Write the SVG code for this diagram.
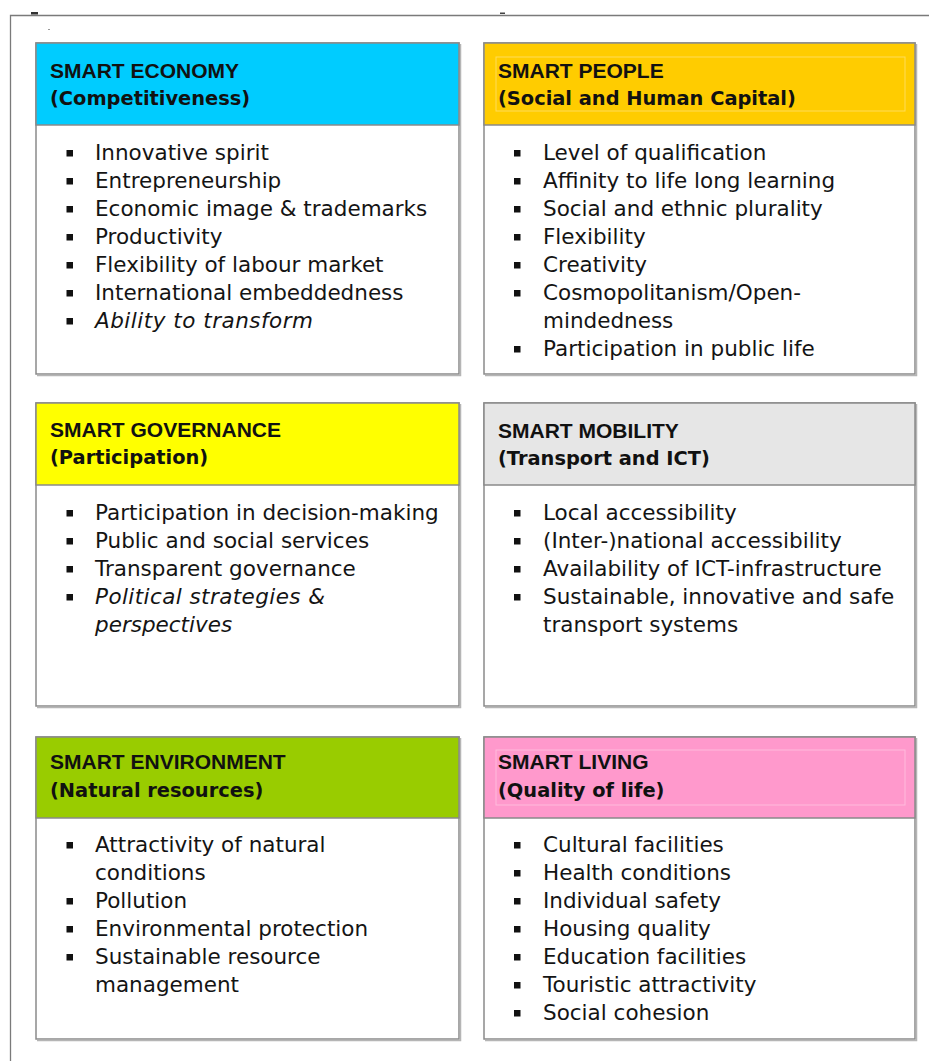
<svg xmlns="http://www.w3.org/2000/svg" width="929" height="1061" viewBox="0 0 929 1061">
<style>
  .frame{fill:none;stroke:#7a7a7a;stroke-width:1.3}
  .box{fill:#fff;stroke:#8a8a8a;stroke-width:1.5}
  .shadow{fill:none;stroke:#b5b5b5;stroke-width:1.5}
  .hdr{stroke:#8a8a8a;stroke-width:1.5}
  .inner{fill:none;stroke:#ffffff;stroke-opacity:0.35;stroke-width:1}
  .t1{font-family:"Liberation Sans",Arial,sans-serif;font-weight:bold;font-size:21px;fill:#111}
  .t2{font-family:"DejaVu Sans",Verdana,sans-serif;font-weight:bold;font-size:19.4px;fill:#111}
  .li{font-family:"DejaVu Sans",Verdana,sans-serif;font-size:21.5px;fill:#141414}
  .it{font-style:italic}
  .bul{fill:#111}
</style>
<defs>
  <rect id="b" width="6.5" height="6.5" class="bul"/>
</defs>
<rect width="929" height="1061" fill="#fff"/>
<g id="frame">
  <path class="frame" d="M10.5,1061 V15.5 H929"/>
  <rect x="31" y="12" width="7" height="2.5" fill="#333"/>
  <rect x="500" y="12.5" width="5" height="1.5" fill="#444"/>
  <rect x="48" y="29" width="2" height="1" fill="#999"/>
</g>

<g id="smart-economy">
  <rect class="box" x="36" y="43" width="423" height="331"/>
  <path class="shadow" d="M37,375.5 H460.5 V44"/>
  <rect class="hdr" x="36" y="43" width="423" height="82" fill="#00CCFF"/>
  <text class="t1" x="50" y="78">SMART ECONOMY</text>
  <text class="t2" x="50" y="105">(Competitiveness)</text>
  <use href="#b" x="66.5" y="150"/><text class="li" x="95" y="160">Innovative spirit</text>
  <use href="#b" x="66.5" y="178"/><text class="li" x="95" y="188">Entrepreneurship</text>
  <use href="#b" x="66.5" y="206"/><text class="li" x="95" y="216">Economic image &amp; trademarks</text>
  <use href="#b" x="66.5" y="234"/><text class="li" x="95" y="244">Productivity</text>
  <use href="#b" x="66.5" y="262"/><text class="li" x="95" y="272">Flexibility of labour market</text>
  <use href="#b" x="66.5" y="290"/><text class="li" x="95" y="300">International embeddedness</text>
  <use href="#b" x="66.5" y="318"/><text class="li it" x="95" y="328" textLength="218" lengthAdjust="spacing">Ability to transform</text>
</g>

<g id="smart-people">
  <rect class="box" x="484" y="43" width="431" height="331"/>
  <path class="shadow" d="M485,375.5 H916.5 V44"/>
  <rect class="hdr" x="484" y="43" width="431" height="82" fill="#FFCC00"/>
  <rect class="inner" x="496" y="57" width="409" height="54"/>
  <text class="t1" x="498" y="78">SMART PEOPLE</text>
  <text class="t2" x="498" y="105">(Social and Human Capital)</text>
  <use href="#b" x="514" y="150"/><text class="li" x="543" y="160">Level of qualification</text>
  <use href="#b" x="514" y="178"/><text class="li" x="543" y="188">Affinity to life long learning</text>
  <use href="#b" x="514" y="206"/><text class="li" x="543" y="216">Social and ethnic plurality</text>
  <use href="#b" x="514" y="234"/><text class="li" x="543" y="244">Flexibility</text>
  <use href="#b" x="514" y="262"/><text class="li" x="543" y="272">Creativity</text>
  <use href="#b" x="514" y="290"/><text class="li" x="543" y="300">Cosmopolitanism/Open-</text>
  <text class="li" x="543" y="328">mindedness</text>
  <use href="#b" x="514" y="346"/><text class="li" x="543" y="356">Participation in public life</text>
</g>

<g id="smart-governance">
  <rect class="box" x="36" y="403" width="423" height="303"/>
  <path class="shadow" d="M37,707.5 H460.5 V404"/>
  <rect class="hdr" x="36" y="403" width="423" height="82" fill="#FFFF00"/>
  <text class="t1" x="50" y="437">SMART GOVERNANCE</text>
  <text class="t2" x="50" y="464">(Participation)</text>
  <use href="#b" x="66.5" y="510"/><text class="li" x="95" y="520">Participation in decision-making</text>
  <use href="#b" x="66.5" y="538"/><text class="li" x="95" y="548">Public and social services</text>
  <use href="#b" x="66.5" y="566"/><text class="li" x="95" y="576">Transparent governance</text>
  <use href="#b" x="66.5" y="594"/><text class="li it" x="95" y="604" textLength="230" lengthAdjust="spacing">Political strategies &amp;</text>
  <text class="li it" x="95" y="632">perspectives</text>
</g>

<g id="smart-mobility">
  <rect class="box" x="484" y="403" width="431" height="303"/>
  <path class="shadow" d="M485,707.5 H916.5 V404"/>
  <rect class="hdr" x="484" y="403" width="431" height="82" fill="#E6E6E6"/>
  <text class="t1" x="498" y="438">SMART MOBILITY</text>
  <text class="t2" x="498" y="465">(Transport and ICT)</text>
  <use href="#b" x="514" y="510"/><text class="li" x="543" y="520">Local accessibility</text>
  <use href="#b" x="514" y="538"/><text class="li" x="543" y="548">(Inter-)national accessibility</text>
  <use href="#b" x="514" y="566"/><text class="li" x="543" y="576">Availability of ICT-infrastructure</text>
  <use href="#b" x="514" y="594"/><text class="li" x="543" y="604">Sustainable, innovative and safe</text>
  <text class="li" x="543" y="632">transport systems</text>
</g>

<g id="smart-environment">
  <rect class="box" x="36" y="737" width="423" height="302"/>
  <path class="shadow" d="M37,1040.5 H460.5 V738"/>
  <rect class="hdr" x="36" y="737" width="423" height="81" fill="#99CC00"/>
  <text class="t1" x="50" y="769">SMART ENVIRONMENT</text>
  <text class="t2" x="50" y="797">(Natural resources)</text>
  <use href="#b" x="66.5" y="842"/><text class="li" x="95" y="852">Attractivity of natural</text>
  <text class="li" x="95" y="880">conditions</text>
  <use href="#b" x="66.5" y="898"/><text class="li" x="95" y="908">Pollution</text>
  <use href="#b" x="66.5" y="926"/><text class="li" x="95" y="936">Environmental protection</text>
  <use href="#b" x="66.5" y="954"/><text class="li" x="95" y="964">Sustainable resource</text>
  <text class="li" x="95" y="992">management</text>
</g>

<g id="smart-living">
  <rect class="box" x="484" y="737" width="431" height="302"/>
  <path class="shadow" d="M485,1040.5 H916.5 V738"/>
  <rect class="hdr" x="484" y="737" width="431" height="81" fill="#FF99CC"/>
  <rect class="inner" x="496" y="750" width="409" height="55"/>
  <text class="t1" x="498" y="769">SMART LIVING</text>
  <text class="t2" x="498" y="797">(Quality of life)</text>
  <use href="#b" x="514" y="842"/><text class="li" x="543" y="852">Cultural facilities</text>
  <use href="#b" x="514" y="870"/><text class="li" x="543" y="880">Health conditions</text>
  <use href="#b" x="514" y="898"/><text class="li" x="543" y="908">Individual safety</text>
  <use href="#b" x="514" y="926"/><text class="li" x="543" y="936">Housing quality</text>
  <use href="#b" x="514" y="954"/><text class="li" x="543" y="964">Education facilities</text>
  <use href="#b" x="514" y="982"/><text class="li" x="543" y="992">Touristic attractivity</text>
  <use href="#b" x="514" y="1010"/><text class="li" x="543" y="1020">Social cohesion</text>
</g>

<g id="connectors"></g>
</svg>
